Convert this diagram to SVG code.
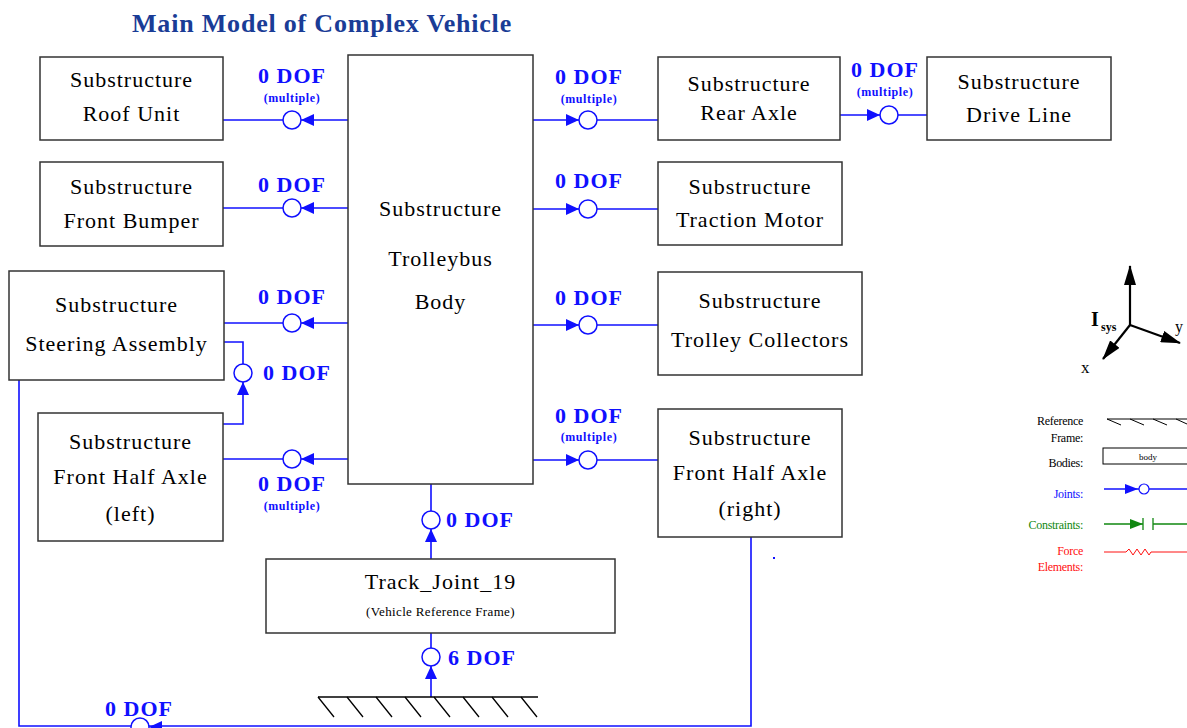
<svg xmlns="http://www.w3.org/2000/svg" xmlns:xlink="http://www.w3.org/1999/xlink" width="1187" height="728" viewBox="0 0 1187 728">
<style>
text{font-family:"Liberation Serif","Times New Roman","DejaVu Serif",Tinos,serif}
.box{fill:#fff;stroke:#333;stroke-width:1.5}
.bt{font-size:22px;letter-spacing:1px;fill:#000;text-anchor:middle}
.dof{font-weight:bold;font-size:22px;letter-spacing:1px;fill:#1010ff}
.mul{font-weight:bold;font-size:12px;letter-spacing:0.6px;fill:#1010ff;text-anchor:middle}
.c{text-anchor:middle}
.ln{fill:none;stroke:#1010ff;stroke-width:1.6}
.blk{fill:none;stroke:#000;stroke-width:1.3}
.lg{font-size:12px;letter-spacing:-0.3px;text-anchor:end}
</style>
<defs>
<g id="j">
<polygon points="-22,-6 -22,6 -9,0" fill="#1010ff"/>
<circle cx="0" cy="0" r="9" fill="#fff" stroke="#1010ff" stroke-width="1.5"/>
</g>
<marker id="ahb" viewBox="0 0 20 12" refX="19" refY="6" markerWidth="20" markerHeight="12" markerUnits="userSpaceOnUse" orient="auto"><path d="M0,0 L20,6 L0,12 z" fill="#000"/></marker>
</defs>
<rect width="1187" height="728" fill="#fff"/>
<text x="322" y="32" font-weight="bold" font-size="26" letter-spacing="0.8" fill="#1a3c96" text-anchor="middle">Main Model of Complex Vehicle</text>

<g id="connectors">
<path class="ln" d="M348,120 H223"/>
<path class="ln" d="M348,208 H223"/>
<path class="ln" d="M348,323 H223"/>
<path class="ln" d="M348,459 H223"/>
<path class="ln" d="M533,120 H658"/>
<path class="ln" d="M840,115 H927"/>
<path class="ln" d="M533,209 H658"/>
<path class="ln" d="M533,325 H658"/>
<path class="ln" d="M533,460 H658"/>
<path class="ln" d="M223,342 H243 V424 H223"/>
<path class="ln" d="M431,484 V559"/>
<path class="ln" d="M431,633 V697"/>
<path class="ln" d="M19,380 V726 H751 V537"/>
<use xlink:href="#j" transform="translate(292,120) rotate(180)"/>
<use xlink:href="#j" transform="translate(292,208) rotate(180)"/>
<use xlink:href="#j" transform="translate(292,323) rotate(180)"/>
<use xlink:href="#j" transform="translate(292,459) rotate(180)"/>
<use xlink:href="#j" transform="translate(588,120)"/>
<use xlink:href="#j" transform="translate(889,115)"/>
<use xlink:href="#j" transform="translate(588,209)"/>
<use xlink:href="#j" transform="translate(588,325)"/>
<use xlink:href="#j" transform="translate(588,460)"/>
<use xlink:href="#j" transform="translate(243,373) rotate(-90)"/>
<use xlink:href="#j" transform="translate(431,520) rotate(-90)"/>
<use xlink:href="#j" transform="translate(431,657) rotate(-90)"/>
<use xlink:href="#j" transform="translate(140,727) rotate(180)"/>
<text class="dof c" x="292" y="83">0 DOF</text>
<text class="mul" x="292" y="102">(multiple)</text>
<text class="dof c" x="292" y="192">0 DOF</text>
<text class="dof c" x="292" y="304">0 DOF</text>
<text class="dof c" x="292" y="491">0 DOF</text>
<text class="mul" x="292" y="510">(multiple)</text>
<text class="dof c" x="589" y="84">0 DOF</text>
<text class="mul" x="589" y="103">(multiple)</text>
<text class="dof c" x="885" y="77">0 DOF</text>
<text class="mul" x="885" y="96">(multiple)</text>
<text class="dof c" x="589" y="188">0 DOF</text>
<text class="dof c" x="589" y="305">0 DOF</text>
<text class="dof c" x="589" y="423">0 DOF</text>
<text class="mul" x="589" y="441">(multiple)</text>
<text class="dof" x="263" y="380">0 DOF</text>
<text class="dof" x="446" y="527">0 DOF</text>
<text class="dof" x="448" y="665">6 DOF</text>
<text class="dof c" x="139" y="716">0 DOF</text>
<rect x="773" y="557" width="2" height="2" fill="#1010ff"/>
</g>

<g id="roof"><rect class="box" x="40" y="57" width="183" height="83"/><text class="bt" x="131.5" y="87">Substructure</text><text class="bt" x="131.5" y="121">Roof Unit</text></g>
<g id="bumper"><rect class="box" x="40" y="162" width="183" height="84"/><text class="bt" x="131.5" y="194">Substructure</text><text class="bt" x="131.5" y="228">Front Bumper</text></g>
<g id="steering"><rect class="box" x="9" y="271" width="215" height="109"/><text class="bt" x="116.5" y="312">Substructure</text><text class="bt" x="116.5" y="351">Steering Assembly</text></g>
<g id="fhaleft"><rect class="box" x="38" y="413" width="185" height="128"/><text class="bt" x="130.5" y="449">Substructure</text><text class="bt" x="130.5" y="484">Front Half Axle</text><text class="bt" x="130.5" y="521">(left)</text></g>
<g id="body"><rect class="box" x="348" y="55" width="185" height="429"/><text class="bt" x="440.5" y="216">Substructure</text><text class="bt" x="440.5" y="266">Trolleybus</text><text class="bt" x="440.5" y="309">Body</text></g>
<g id="rearaxle"><rect class="box" x="658" y="57" width="182" height="83"/><text class="bt" x="749" y="91">Substructure</text><text class="bt" x="749" y="120">Rear Axle</text></g>
<g id="driveline"><rect class="box" x="927" y="57" width="184" height="83"/><text class="bt" x="1019" y="89">Substructure</text><text class="bt" x="1019" y="122">Drive Line</text></g>
<g id="traction"><rect class="box" x="658" y="162" width="184" height="83"/><text class="bt" x="750" y="194">Substructure</text><text class="bt" x="750" y="227">Traction Motor</text></g>
<g id="collectors"><rect class="box" x="658" y="272" width="204" height="103"/><text class="bt" x="760" y="308">Substructure</text><text class="bt" x="760" y="347">Trolley Collectors</text></g>
<g id="fharight"><rect class="box" x="658" y="409" width="184" height="128"/><text class="bt" x="750" y="445">Substructure</text><text class="bt" x="750" y="480">Front Half Axle</text><text class="bt" x="750" y="516">(right)</text></g>
<g id="track"><rect class="box" x="266" y="559" width="349" height="74"/><text class="bt" x="440.5" y="589">Track_Joint_19</text><text x="440.5" y="616" font-size="13" letter-spacing="0.35" text-anchor="middle">(Vehicle Reference Frame)</text></g>

<g id="ground">
<path class="blk" d="M318,697 H538"/>
<path class="blk" stroke-width="1" d="M318,697 l16,20 M347,697 l16,20 M376,697 l16,20 M405,697 l16,20 M434,697 l16,20 M463,697 l16,20 M492,697 l16,20 M521,697 l16,20"/>
</g>

<g id="axes">
<path d="M1130,325 V266" stroke="#000" stroke-width="2.2" marker-end="url(#ahb)"/>
<path d="M1130,325 L1103,359" stroke="#000" stroke-width="2.2" marker-end="url(#ahb)"/>
<path d="M1130,325 L1180,343" stroke="#000" stroke-width="2.2" marker-end="url(#ahb)"/>
<text x="1091" y="326" font-weight="bold" font-size="20">I</text>
<text x="1101" y="331" font-weight="bold" font-size="12">sys</text>
<text x="1081" y="373" font-size="17">x</text>
<text x="1175" y="332" font-size="16">y</text>
</g>

<g id="legend">
<text class="lg" x="1083" y="425">Reference</text>
<text class="lg" x="1083" y="442">Frame:</text>
<path d="M1107,419 H1187" stroke="#000" stroke-width="1"/>
<path d="M1107,419 l14,6 M1130,419 l14,6 M1153,419 l14,6 M1176,419 l11,5" stroke="#000" stroke-width="1"/>
<text class="lg" x="1083" y="467">Bodies:</text>
<rect x="1103" y="448" width="90" height="16" fill="#fff" stroke="#000" stroke-width="1"/>
<text x="1148" y="460" font-size="9" text-anchor="middle">body</text>
<text class="lg" x="1083" y="498" fill="#1010ff">Joints:</text>
<path d="M1104,489 H1187" stroke="#1010ff" stroke-width="1.3"/>
<polygon points="1125,484 1125,494 1138,489" fill="#1010ff"/>
<circle cx="1144" cy="489" r="5" fill="#fff" stroke="#1010ff" stroke-width="1.2"/>
<text class="lg" x="1083" y="529" fill="#118811">Constraints:</text>
<path d="M1104,524 H1143 M1153,524 H1187 M1143,518 V530 M1153,518 V530" stroke="#118811" stroke-width="1.3"/>
<polygon points="1130,519 1130,529 1143,524" fill="#118811"/>
<text class="lg" x="1083" y="555" fill="#ff1010">Force</text>
<text class="lg" x="1083" y="571" fill="#ff1010">Elements:</text>
<path d="M1104,552 H1126 l3,-3 l4,6 l4,-6 l4,6 l4,-6 l4,6 l2,-3 H1187" fill="none" stroke="#ff1010" stroke-width="1"/>
</g>
</svg>
